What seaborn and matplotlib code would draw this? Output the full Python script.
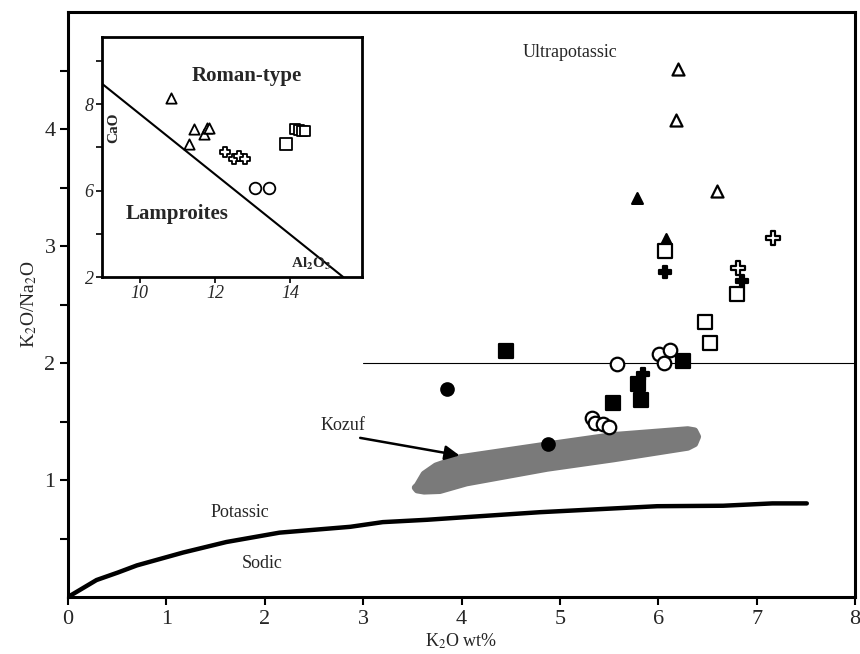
import matplotlib
matplotlib.use("Agg")
import matplotlib.pyplot as plt
import seaborn as sns
import pandas as pd
import numpy as np

sns.set_theme(style="white")
plt.rcParams['font.family'] = ['Liberation Serif', 'DejaVu Serif']
plt.rcParams['mathtext.fontset'] = 'stix'

# ---------------- main diagram data ----------------
open_tri_x = [6.20, 6.18, 6.60]
open_tri_y = [4.51, 4.08, 3.47]
fill_tri_x = [5.78, 6.08]
fill_tri_y = [3.41, 3.06]
open_sq_x = [6.07, 6.80, 6.48, 6.53]
open_sq_y = [2.96, 2.59, 2.35, 2.17]
open_cross_x = [7.17, 6.81]
open_cross_y = [3.07, 2.81]
fill_cross_x = [6.07, 6.85, 5.85]
fill_cross_y = [2.78, 2.70, 1.91]
fill_sq_x = [4.45, 5.79, 5.82, 5.54, 6.25]
fill_sq_y = [2.10, 1.82, 1.68, 1.66, 2.02]
fill_circ_x = [3.85, 4.88]
fill_circ_y = [1.78, 1.31]
open_circ_x = [5.58, 6.01, 6.12, 6.06, 5.33, 5.36, 5.44, 5.50]
open_circ_y = [1.99, 2.08, 2.11, 2.00, 1.53, 1.49, 1.48, 1.45]

# potassic / sodic boundary
bound_x = [0.0, 0.29, 0.51, 0.70, 1.17, 1.61, 2.15, 2.87, 3.20, 3.65, 4.00, 4.80, 5.99, 6.66, 7.16, 7.51]
bound_y = [0.0, 0.145, 0.21, 0.27, 0.38, 0.47, 0.55, 0.60, 0.64, 0.66, 0.68, 0.725, 0.776, 0.78, 0.80, 0.80]

# Kozuf field outline
kozuf_x = [3.55, 3.62, 3.74, 3.98, 4.87, 5.54, 6.30, 6.37, 6.40, 6.37, 6.30, 5.54, 4.87, 4.05, 3.78, 3.62, 3.55, 3.53]
kozuf_y = [0.95, 1.05, 1.12, 1.19, 1.30, 1.38, 1.43, 1.42, 1.37, 1.31, 1.28, 1.18, 1.10, 0.975, 0.91, 0.905, 0.915, 0.935]

# ultrapotassic limit
ultra_x = [3.0, 8.0]
ultra_y = [2.0, 2.0]

x_ticks = [0, 1, 2, 3, 4, 5, 6, 7, 8]
y_ticks = [1, 2, 3, 4]
y_minor = [0.5, 1.5, 2.5, 3.5, 4.5]

# ---------------- inset (CaO vs Al2O3) data ----------------
in_tri_x = [10.83, 11.44, 11.70, 11.79, 11.84, 11.30]
in_tri_y = [8.14, 7.42, 7.30, 7.44, 7.44, 7.07]
in_cross_x = [12.27, 12.50, 12.63, 12.80]
in_cross_y = [6.88, 6.74, 6.79, 6.74]
in_circ_x = [13.07, 13.44]
in_circ_y = [6.05, 6.05]
in_sq_big_x = [13.87]
in_sq_big_y = [7.07]
in_sq_x = [14.13, 14.22, 14.32, 14.40]
in_sq_y = [7.42, 7.40, 7.38, 7.37]
in_line_x = [9.0, 15.4]
in_line_y = [8.47, 4.0]
in_xticks = [10, 12, 14]
in_xticklabels = ["10", "12", "14"]
in_yticks = [4, 5, 6, 7, 8, 9]
in_yticklabels = ["2", "", "6", "", "8", ""]

fig = plt.figure(figsize=(8.6, 6.54), dpi=100)
ax = fig.add_axes([68/860, 1-597/654, (855-68)/860, (597-12)/654])

def scat(axis, xs, ys, marker, filled, size):
    df = pd.DataFrame({"x": xs, "y": ys})
    sns.scatterplot(data=df, x="x", y="y", ax=axis, marker=marker, s=size,
                    facecolor="black" if filled else "white",
                    edgecolor="black", linewidth=1.6, zorder=5, legend=False)

# Kozuf field
ax.fill(kozuf_x, kozuf_y, facecolor="#7a7a7a", edgecolor="#7a7a7a", lw=5,
        joinstyle="round", zorder=2)

# boundary curve
sns.lineplot(x=bound_x, y=bound_y, ax=ax, color="black", lw=3.2, sort=False, zorder=3)
sns.lineplot(x=ultra_x, y=ultra_y, ax=ax, color="black", lw=0.8, sort=False, zorder=3)

scat(ax, open_tri_x, open_tri_y, "^", False, 75)
scat(ax, fill_tri_x, fill_tri_y, "^", True, 60)
scat(ax, open_sq_x, open_sq_y, "s", False, 110)
scat(ax, open_cross_x, open_cross_y, "P", False, 90)
scat(ax, fill_cross_x, fill_cross_y, "P", True, 70)
scat(ax, fill_sq_x, fill_sq_y, "s", True, 95)
scat(ax, fill_circ_x, fill_circ_y, "o", True, 80)
scat(ax, open_circ_x, open_circ_y, "o", False, 95)

ax.annotate("", xy=(3.98, 1.21), xytext=(2.97, 1.36),
            arrowprops=dict(arrowstyle="-|>", color="black", lw=1.8,
                            mutation_scale=22, shrinkA=0, shrinkB=0), zorder=4)
ax.text(2.80, 1.47, "Kozuf", fontsize=13, ha="center", va="center")
ax.text(5.10, 4.65, "Ultrapotassic", fontsize=13, ha="center", va="center")
ax.text(1.75, 0.72, "Potassic", fontsize=13, ha="center", va="center")
ax.text(1.97, 0.29, "Sodic", fontsize=13, ha="center", va="center")

ax.set_xlim(0, 8)
ax.set_ylim(0, 5)
ax.set_xticks(x_ticks)
ax.set_xticklabels([str(t) for t in x_ticks], fontsize=16)
ax.set_yticks(y_ticks)
ax.set_yticklabels([str(t) for t in y_ticks], fontsize=16)
ax.set_yticks(y_minor, minor=True)
ax.tick_params(axis="both", which="both", direction="out", length=6, width=1.5,
               color="black", left=True, bottom=True, pad=3)
ax.set_xlabel("K$_2$O wt%", fontsize=13, labelpad=2)
ax.set_ylabel("K$_2$O/Na$_2$O", fontsize=14, labelpad=4)
for sp in ax.spines.values():
    sp.set_color("black")
    sp.set_linewidth(2.2)
ax.grid(False)

# ---------------- inset ----------------
ins = fig.add_axes([102/860, 1-277/654, (362-102)/860, (277-37)/654])
sns.lineplot(x=in_line_x, y=in_line_y, ax=ins, color="black", lw=1.5, sort=False)

def iscat(xs, ys, marker, size):
    df = pd.DataFrame({"x": xs, "y": ys})
    sns.scatterplot(data=df, x="x", y="y", ax=ins, marker=marker, s=size,
                    facecolor="white", edgecolor="black", linewidth=1.3,
                    zorder=5, legend=False)

iscat(in_tri_x, in_tri_y, "^", 55)
iscat(in_cross_x, in_cross_y, "P", 60)
iscat(in_circ_x, in_circ_y, "o", 70)
iscat(in_sq_big_x, in_sq_big_y, "s", 85)
iscat(in_sq_x, in_sq_y, "s", 60)

ins.text(12.85, 8.65, "Roman-type", fontsize=15, fontweight="bold", ha="center", va="center")
ins.text(11.0, 5.45, "Lamproites", fontsize=15, fontweight="bold", ha="center", va="center")
ins.text(9.3, 7.45, "CaO", fontsize=11, fontweight="bold", rotation=90, ha="center", va="center")
ins.text(14.55, 4.3, "Al$_\\mathbf{2}$O$_\\mathbf{3}$", fontsize=11, fontweight="bold", ha="center", va="center")

ins.set_xlim(9.0, 15.9)
ins.set_ylim(4.0, 9.55)
ins.set_xticks(in_xticks)
ins.set_xticklabels(in_xticklabels, fontsize=13, style="italic")
ins.set_yticks(in_yticks)
ins.set_yticklabels(in_yticklabels, fontsize=13, style="italic")
ins.tick_params(axis="both", direction="out", length=4, width=1.2, color="black",
                left=True, bottom=True, pad=2)
ins.set_xlabel("")
ins.set_ylabel("")
for sp in ins.spines.values():
    sp.set_color("black")
    sp.set_linewidth(2.0)
ins.grid(False)

fig.savefig("out.png", dpi=100)
